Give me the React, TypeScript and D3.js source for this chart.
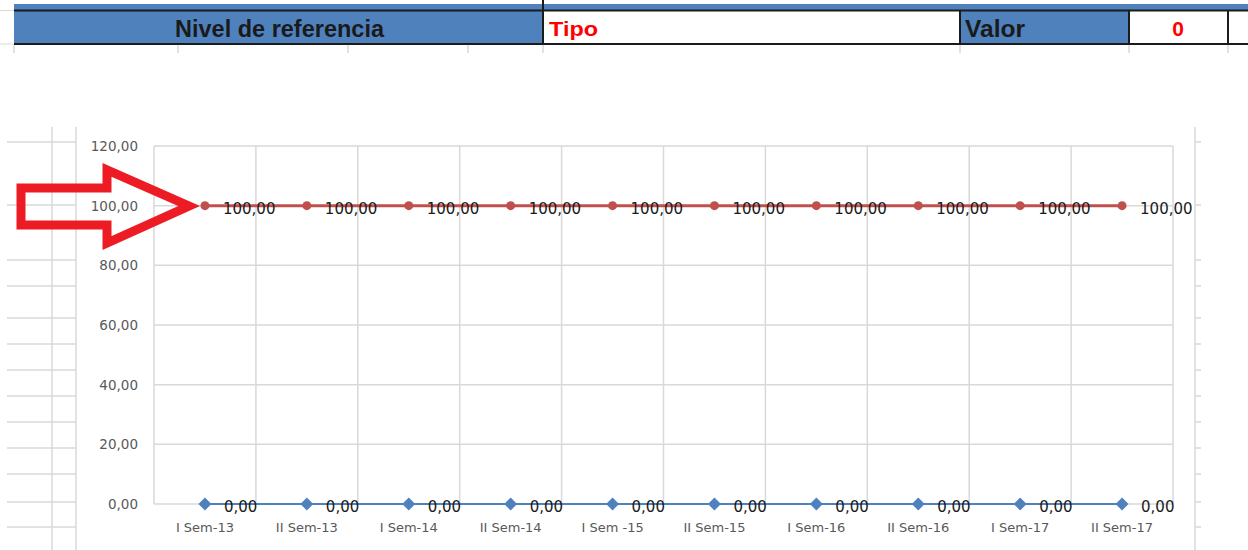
import * as d3 from "d3";

const categories = [
  "I Sem-13",
  "II Sem-13",
  "I Sem-14",
  "II Sem-14",
  "I Sem -15",
  "II Sem-15",
  "I Sem-16",
  "II Sem-16",
  "I Sem-17",
  "II Sem-17",
];
const referenceValues = [100, 100, 100, 100, 100, 100, 100, 100, 100, 100];
const actualValues = [0, 0, 0, 0, 0, 0, 0, 0, 0, 0];
const yTicks = [0, 20, 40, 60, 80, 100, 120];

const headerLabel = "Nivel de referencia";
const typeLabel = "Tipo";
const valueLabel = "Valor";
const valueText = "0";

// spreadsheet row lines peeking out next to the chart
const sheetRows = [142, 205, 260, 286, 318, 344, 370, 396, 422, 448, 474, 502, 527];
const sheetCols = [14, 178, 348, 468, 543, 960, 1129, 1228];

const W = 1248;
const H = 550;
const plot = { left: 154, right: 1173, top: 146, bottom: 504 };

const locale = d3.formatLocale({
  decimal: ",",
  thousands: ".",
  grouping: [3],
  currency: ["", "€"],
});
const fmt = locale.format(".2f");

const RED = "#c0504d";
const BLUE = "#4f81bd";
const GRID = "#d9d9d9";
const AXIS_TEXT = "#595959";
const CHART_FONT = "'DejaVu Sans', sans-serif";

export default function App() {
  const x = d3
    .scaleBand<string>()
    .domain(categories)
    .range([plot.left, plot.right])
    .padding(0);
  const y = d3.scaleLinear().domain([0, 120]).range([plot.bottom, plot.top]);
  const cx = (c: string) => (x(c) as number) + x.bandwidth() / 2;

  const line = d3
    .line<number>()
    .x((_, i) => cx(categories[i]))
    .y((d) => y(d));

  const bounds = categories.map((c) => x(c) as number).concat([plot.right]);
  // square turned 45° gives Excel's even diamond marker
  const diamond = d3.symbol(d3.symbolSquare, 84)();

  return (
    <svg
      width={W}
      height={H}
      style={{ position: "absolute", left: 0, top: 0, background: "#fff" }}
    >
      {/* table strip at the top */}
      <rect x={14} y={4} width={W - 14} height={6} fill={BLUE} />
      <rect x={14} y={10} width={529} height={34} fill={BLUE} />
      <rect x={543} y={10} width={417} height={34} fill="#fff" />
      <rect x={960} y={10} width={169} height={34} fill={BLUE} />
      <rect x={1129} y={10} width={99} height={34} fill="#fff" />
      <line x1={14} x2={W} y1={10.5} y2={10.5} stroke="#1b1b1b" strokeWidth={2} />
      <line x1={14} x2={W} y1={44} y2={44} stroke="#1b1b1b" strokeWidth={2} />
      <line x1={0} x2={14} y1={10.5} y2={10.5} stroke={GRID} />
      <line x1={0} x2={14} y1={44} y2={44} stroke={GRID} />
      {[543, 960, 1129, 1228].map((cxp) => (
        <line key={cxp} x1={cxp} x2={cxp} y1={10} y2={45} stroke="#1b1b1b" strokeWidth={2} />
      ))}
      <line x1={543} x2={543} y1={0} y2={10} stroke="#1b1b1b" strokeWidth={2} />
      {sheetCols.map((c) => (
        <line key={"sc" + c} x1={c} x2={c} y1={45} y2={53} stroke={GRID} strokeWidth={1.5} />
      ))}
      <text
        x={175}
        y={37}
        fontFamily="'Liberation Sans Narrow', 'Liberation Sans', sans-serif"
        fontWeight="bold"
        fontSize={23}
        fill="#1a1a1a"
        textLength={209}
        lengthAdjust="spacingAndGlyphs"
      >
        {headerLabel}
      </text>
      <text
        x={549}
        y={36}
        fontFamily="'Liberation Sans Narrow', 'Liberation Sans', sans-serif"
        fontWeight="bold"
        fontSize={20}
        fill="#ff0000"
        textLength={49}
        lengthAdjust="spacingAndGlyphs"
      >
        {typeLabel}
      </text>
      <text
        x={965}
        y={37}
        fontFamily="'Liberation Sans Narrow', 'Liberation Sans', sans-serif"
        fontWeight="bold"
        fontSize={23}
        fill="#1a1a1a"
        textLength={60}
        lengthAdjust="spacingAndGlyphs"
      >
        {valueLabel}
      </text>
      <text
        x={1178}
        y={36}
        textAnchor="middle"
        fontFamily="'Liberation Sans', sans-serif"
        fontWeight="bold"
        fontSize={21}
        fill="#ff0000"
      >
        {valueText}
      </text>

      {/* spreadsheet grid around the chart */}
      {sheetRows.map((r) => (
        <g key={"r" + r}>
          <line x1={7} x2={76} y1={r} y2={r} stroke={GRID} strokeWidth={1.5} />
          <line x1={1195} x2={1201} y1={r} y2={r} stroke={GRID} strokeWidth={1.5} />
        </g>
      ))}
      <line x1={52} x2={52} y1={127} y2={H} stroke={GRID} strokeWidth={1.5} />
      <line x1={76} x2={76} y1={127} y2={H} stroke={GRID} strokeWidth={1.5} />
      <line x1={1195} x2={1195} y1={127} y2={H} stroke={GRID} strokeWidth={1.5} />

      {/* gridlines */}
      {yTicks.map((t) => (
        <line
          key={"hy" + t}
          x1={plot.left}
          x2={plot.right}
          y1={y(t)}
          y2={y(t)}
          stroke={GRID}
          strokeWidth={1.5}
        />
      ))}
      {bounds.map((b, i) => (
        <line
          key={"vx" + i}
          x1={b}
          x2={b}
          y1={plot.top}
          y2={plot.bottom}
          stroke={GRID}
          strokeWidth={1.5}
        />
      ))}

      {/* y axis labels */}
      {yTicks.map((t) => (
        <text
          key={"yl" + t}
          x={138}
          y={y(t)}
          dy="0.36em"
          textAnchor="end"
          fontFamily={CHART_FONT}
          fontSize={13.5}
          fill={AXIS_TEXT}
        >
          {fmt(t)}
        </text>
      ))}

      {/* x axis labels */}
      {categories.map((c) => (
        <text
          key={"xl" + c}
          x={cx(c)}
          y={532}
          textAnchor="middle"
          fontFamily={CHART_FONT}
          fontSize={13}
          fill={AXIS_TEXT}
        >
          {c}
        </text>
      ))}

      {/* reference series */}
      <path d={line(referenceValues) as string} fill="none" stroke={RED} strokeWidth={3} />
      {referenceValues.map((v, i) => (
        <circle key={"rc" + i} cx={cx(categories[i])} cy={y(v)} r={4.5} fill={RED} />
      ))}
      {referenceValues.map((v, i) => (
        <text
          key={"rt" + i}
          x={cx(categories[i]) + 18}
          y={y(v) + 3}
          dy="0.36em"
          fontFamily={CHART_FONT}
          fontSize={15}
          fill="#1a1a1a"
        >
          {fmt(v)}
        </text>
      ))}

      {/* actual series */}
      <path d={line(actualValues) as string} fill="none" stroke={BLUE} strokeWidth={2} />
      {actualValues.map((v, i) => (
        <path
          key={"ad" + i}
          d={diamond as string}
          transform={`translate(${cx(categories[i])},${y(v)}) rotate(45)`}
          fill={BLUE}
        />
      ))}
      {actualValues.map((v, i) => (
        <text
          key={"at" + i}
          x={cx(categories[i]) + 19}
          y={y(v) + 3}
          dy="0.36em"
          fontFamily={CHART_FONT}
          fontSize={15}
          fill="#1a1a1a"
        >
          {fmt(v)}
        </text>
      ))}

      {/* red callout arrow */}
      <path
        d="M21,188 L107,188 L107,170 L189,206 L107,243 L107,225 L21,225 Z"
        fill="none"
        stroke="#ed1c24"
        strokeWidth={9}
        strokeLinejoin="miter"
      />
    </svg>
  );
}
